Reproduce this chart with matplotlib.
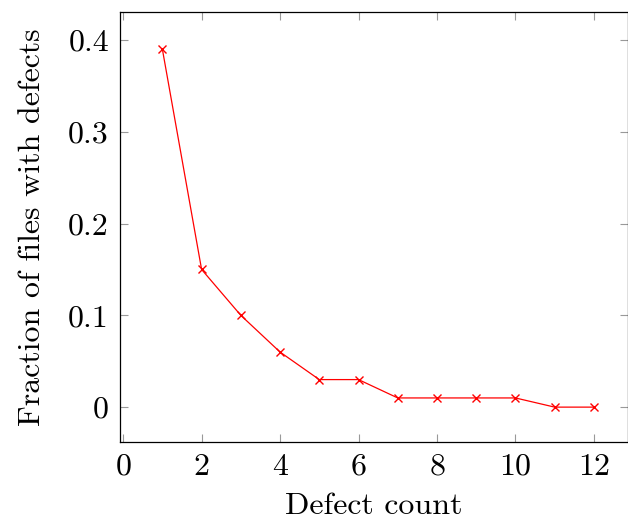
import matplotlib.pyplot as plt

plt.rcParams['font.family'] = 'serif'
plt.rcParams['font.serif'] = ['cmr10']
plt.rcParams['mathtext.fontset'] = 'cm'
plt.rcParams['axes.formatter.use_mathtext'] = True

defect_count = [1, 2, 3, 4, 5, 6, 7, 8, 9, 10, 11, 12]
fraction = [0.39, 0.15, 0.10, 0.06, 0.03, 0.03, 0.01, 0.01, 0.01, 0.01, 0.0, 0.0]

fig = plt.figure(figsize=(6.28, 5.21), dpi=100)
ax = fig.add_axes([120 / 628, 79 / 521, 508 / 628, 430 / 521])

ax.plot(defect_count, fraction, color='red', marker='x', markersize=6,
        linewidth=0.9, markeredgewidth=1.0)

ax.set_xlim(-0.08, 12.87)
ax.set_ylim(-0.038, 0.4305)
ax.set_xticks([0, 2, 4, 6, 8, 10, 12])
ax.set_yticks([0, 0.1, 0.2, 0.3, 0.4])
ax.set_yticklabels(['0', '0.1', '0.2', '0.3', '0.4'])

ax.tick_params(direction='in', top=True, right=True, length=6, width=0.8,
               color='#999999', labelsize=23, pad=8)
for s in ax.spines.values():
    s.set_linewidth(0.9)

ax.set_xlabel('Defect count', fontsize=23, labelpad=9)
ax.set_ylabel('Fraction of files with defects', fontsize=23, labelpad=16)

fig.savefig('out.png', dpi=100)
